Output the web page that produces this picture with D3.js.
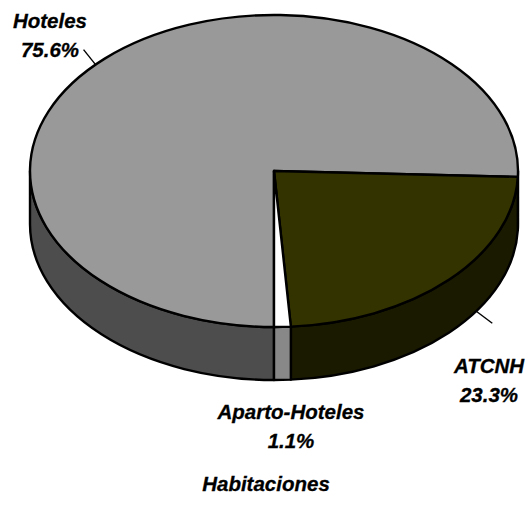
<!DOCTYPE html>
<html>
<head>
<meta charset="utf-8">
<script src="https://cdn.jsdelivr.net/npm/d3@7"></script>
<style>
  html, body { margin: 0; padding: 0; background: #fff; }
  svg text { font-family: Arial, "Liberation Sans", sans-serif; font-weight: bold; font-style: italic; }
</style>
</head>
<body>
<svg id="chart" width="532" height="519"></svg>
<script>
// Room share by establishment type
const categories = ["Hoteles", "ATCNH", "Aparto-Hoteles"];
const shares = [75.6, 23.3, 1.1];
const topColors = ["#999999", "#333300", "#ffffff"];
const sideColors = ["#4d4d4d", "#1a1a00", "#888888"];
const chartTitle = "Habitaciones";

// Projected disc geometry
const cx = 274, cy = 171, rx = 244, ry = 156, depth = 53;

// Label layout: text anchor and leader (angle on rim, outward offset)
const labelLayout = {
  "Hoteles":        { x: 50,  y: 28,  leader: { angle: 313, bottom: false, dx: -12, dy: -15 } },
  "ATCNH":          { x: 489, y: 373, leader: { angle: 124, bottom: true,  dx: 16,  dy: 12 } },
  "Aparto-Hoteles": { x: 291, y: 419, leader: null }
};

const svg = d3.select("#chart");
const data = categories.map((c, i) => ({ name: c, value: shares[i], top: topColors[i], side: sideColors[i] }));

const pie = d3.pie().sort(null).value(d => d.value)
  .startAngle(Math.PI).endAngle(3 * Math.PI);
const arcs = pie(data);

// point on the projected ellipse; angle clockwise from 12 o'clock
const pt = (a, r = 1, off = 0) => [cx + rx * r * Math.sin(a), cy - ry * r * Math.cos(a) + off];
const arcCmd = (a0, a1, off, sweep) => {
  const large = Math.abs(a1 - a0) > Math.PI ? 1 : 0;
  const p = pt(sweep ? a1 : a0, 1, off);
  return `A${rx},${ry} 0 ${large} ${sweep} ${p[0]},${p[1]}`;
};

// Side walls: the visible front half spans [PI/2, 3PI/2] (mod 2PI)
const sideG = svg.append("g");
arcs.forEach(d => {
  for (let k = -1; k <= 2; k++) {
    const f0 = Math.PI / 2 + 2 * Math.PI * k, f1 = 3 * Math.PI / 2 + 2 * Math.PI * k;
    const b0 = Math.max(d.startAngle, f0), b1 = Math.min(d.endAngle, f1);
    if (b1 - b0 <= 1e-6) continue;
    const t0 = pt(b0), t1 = pt(b1), u1 = pt(b1, 1, depth), u0 = pt(b0, 1, depth);
    const path = `M${t0[0]},${t0[1]} ${arcCmd(b0, b1, 0, 1)} L${u1[0]},${u1[1]} ` +
      `A${rx},${ry} 0 ${Math.abs(b1 - b0) > Math.PI ? 1 : 0} 0 ${u0[0]},${u0[1]} Z`;
    sideG.append("path").attr("d", path)
      .attr("fill", d.data.side).attr("stroke", "#000").attr("stroke-width", 2.4)
      .attr("stroke-linejoin", "round");
  }
});

// Top faces
const topG = svg.append("g");
arcs.forEach(d => {
  const p0 = pt(d.startAngle);
  const path = `M${cx},${cy} L${p0[0]},${p0[1]} ${arcCmd(d.startAngle, d.endAngle, 0, 1)} Z`;
  topG.append("path").attr("d", path)
    .attr("fill", d.data.top).attr("stroke", "#000").attr("stroke-width", 2.4)
    .attr("stroke-linejoin", "round");
});

// Labels with leader lines
const fmt = d3.format(".1f");
const labG = svg.append("g");
arcs.forEach(d => {
  const L = labelLayout[d.data.name];
  const t = labG.append("text").attr("text-anchor", "middle").attr("font-size", 20.5)
    .attr("fill", "#000").attr("stroke", "#000").attr("stroke-width", 0.3);
  t.append("tspan").attr("x", L.x).attr("y", L.y).text(d.data.name);
  t.append("tspan").attr("x", L.x).attr("y", L.y + 29).text(fmt(d.data.value) + "%");
  if (L.leader) {
    const a = L.leader.angle * Math.PI / 180;
    const p = pt(a, 1, L.leader.bottom ? depth : 0);
    labG.append("line")
      .attr("x1", p[0]).attr("y1", p[1])
      .attr("x2", p[0] + L.leader.dx).attr("y2", p[1] + L.leader.dy)
      .attr("stroke", "#000").attr("stroke-width", 1.4);
  }
});

svg.append("text").attr("x", 266).attr("y", 491).attr("text-anchor", "middle")
  .attr("font-size", 20.5).attr("fill", "#000").attr("stroke", "#000").attr("stroke-width", 0.3)
  .text(chartTitle);
</script>
</body>
</html>
